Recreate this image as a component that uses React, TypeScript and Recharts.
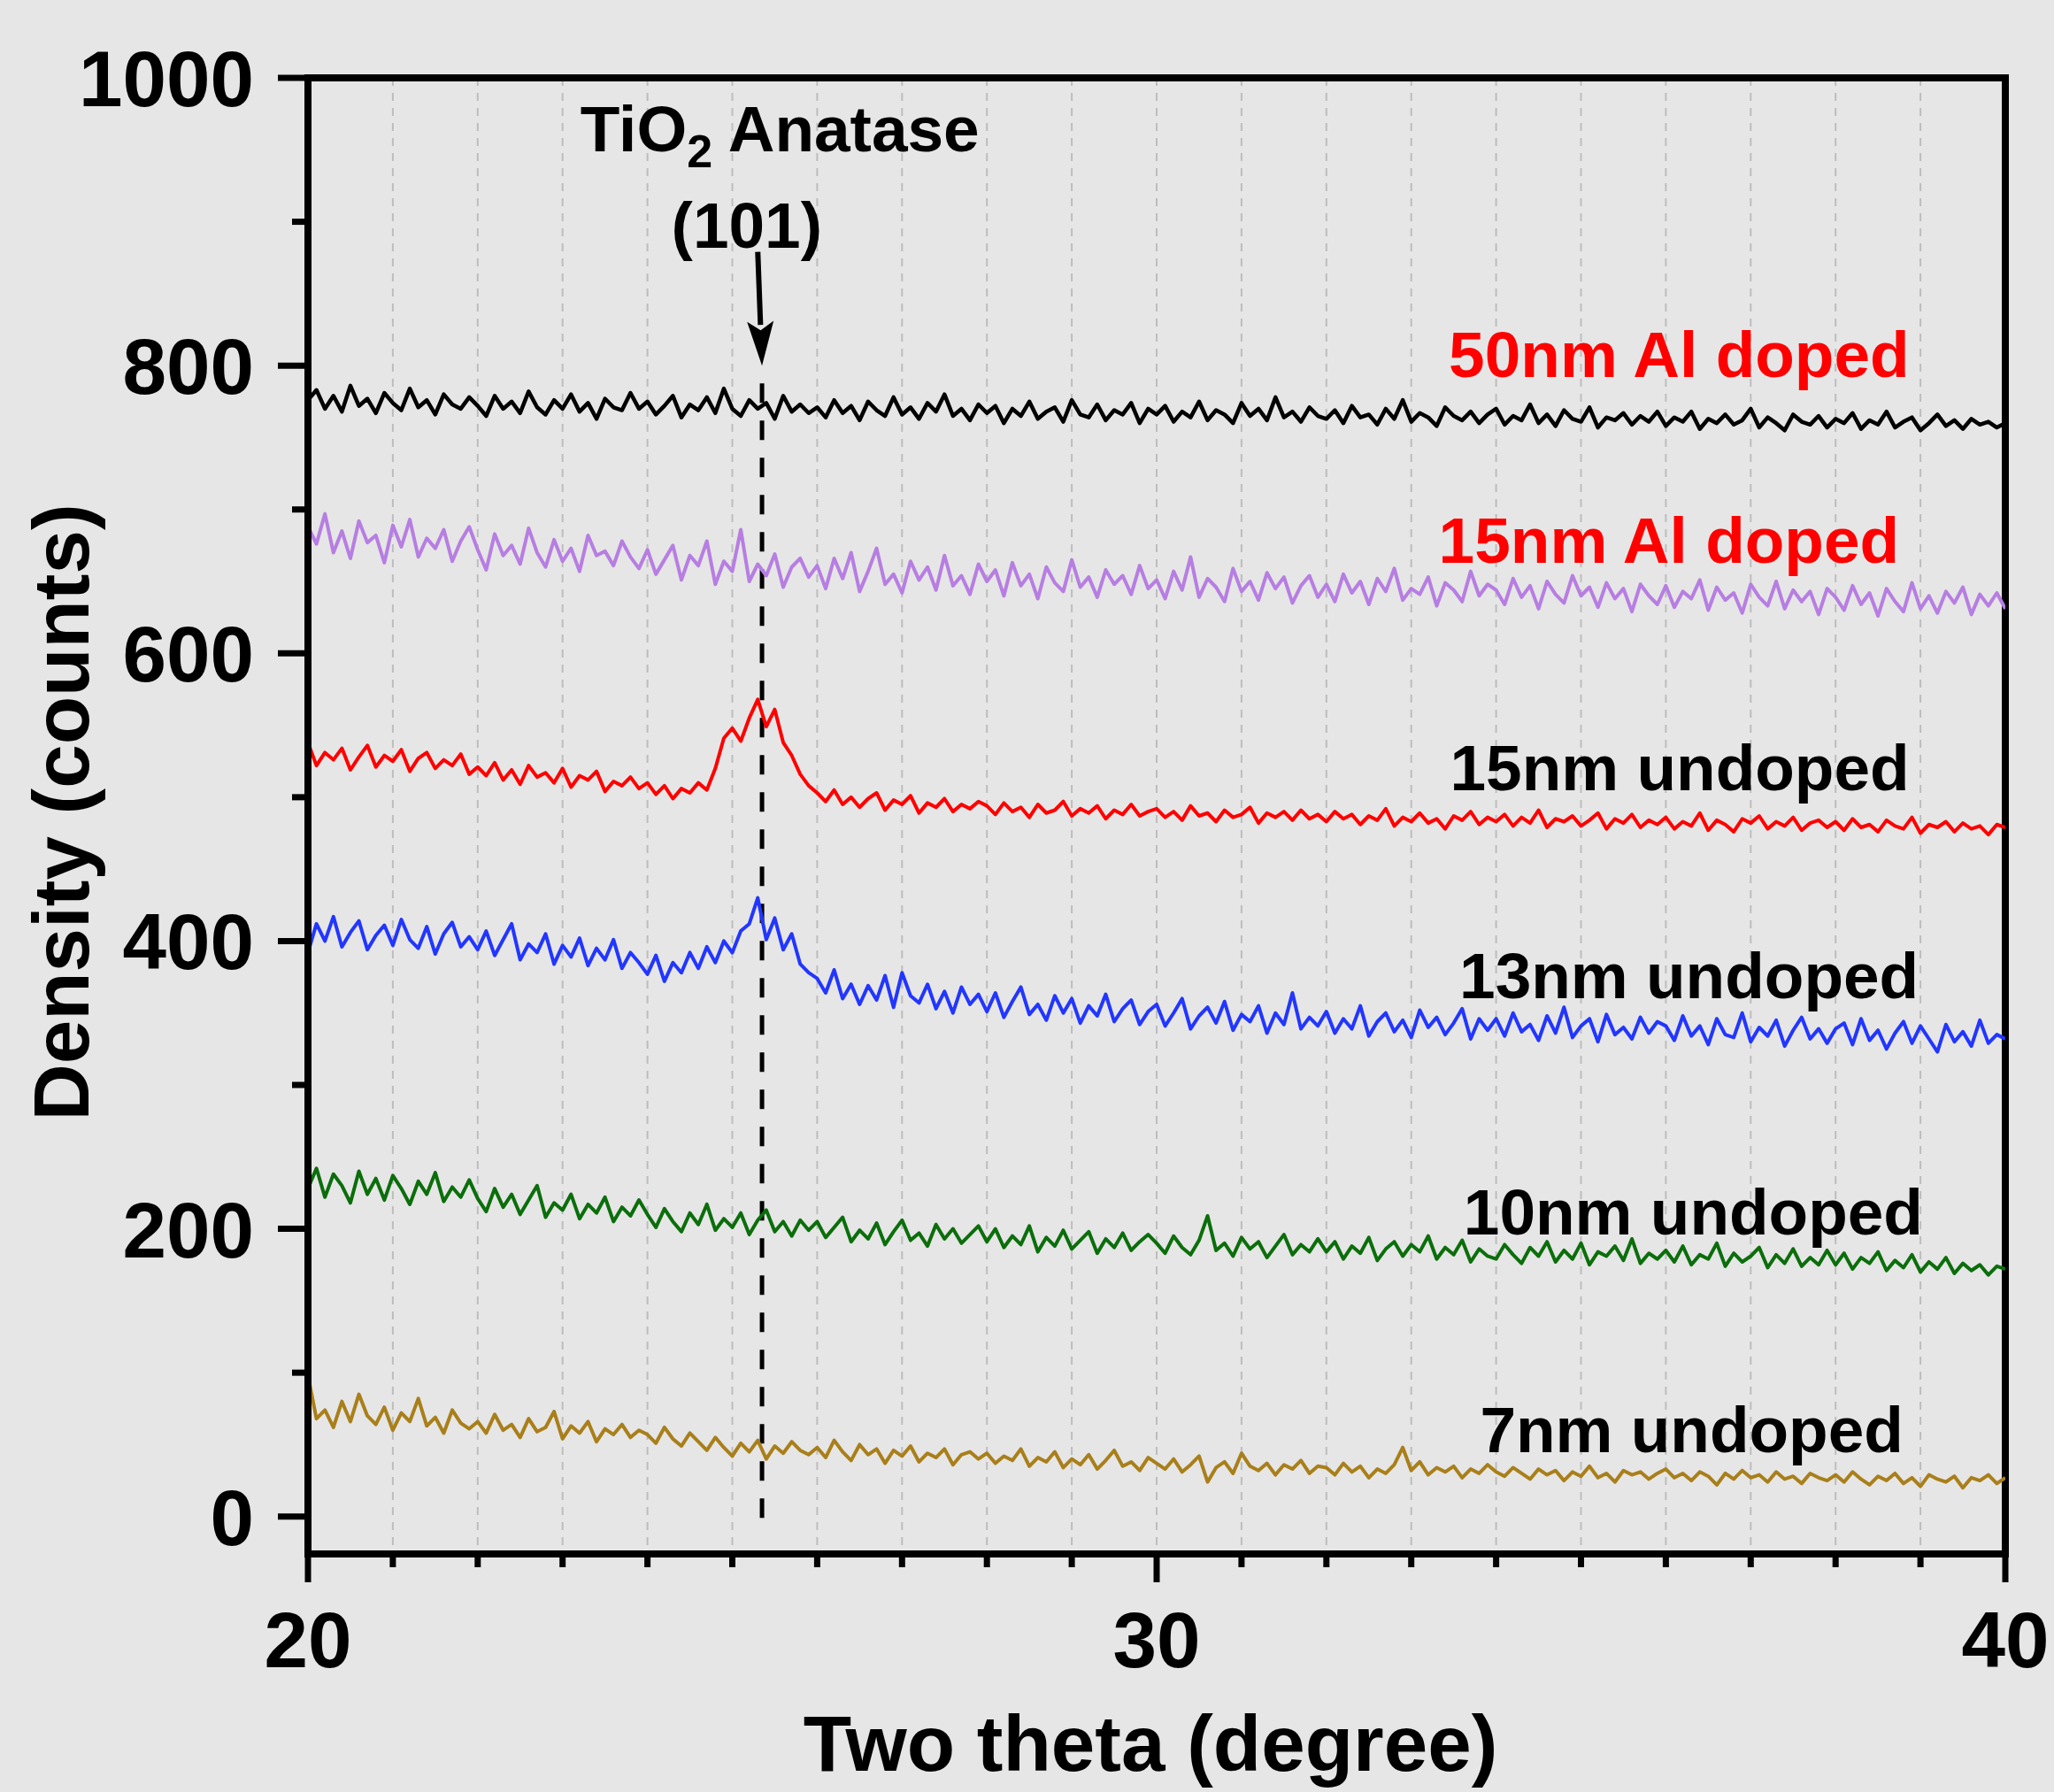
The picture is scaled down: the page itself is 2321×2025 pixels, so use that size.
import { CartesianGrid, Line, LineChart, ReferenceDot, ReferenceLine, XAxis, YAxis } from 'recharts';

// two theta runs 20.0 .. 40.0 in 0.1 degree steps
const thetaStart = 20;
const thetaStep = 0.1;

const al50 = [
  776, 783, 770, 779, 768, 786, 772, 777, 767, 781, 774, 769, 784, 771, 776, 766, 780, 773, 770, 778,
  772, 765, 779, 770, 775, 767, 782, 771, 766, 776, 770, 780, 768, 774, 763, 777, 771, 769, 781, 770,
  775, 766, 772, 779, 764, 773, 769, 778, 767, 784, 770, 765, 776, 770, 774, 763, 779, 768, 773, 767,
  771, 764, 776, 767, 772, 762, 775, 769, 765, 778, 766, 771, 763, 774, 768, 780, 765, 770, 762, 773,
  767, 772, 760, 770, 765, 775, 763, 768, 771, 761, 776, 766, 764, 773, 762, 769, 766, 774, 760, 770,
  766, 772, 761, 768, 764, 775, 762, 769, 766, 760, 774, 765, 770, 762, 778, 764, 768, 761, 771, 765,
  763, 769, 760, 772, 764, 766, 759, 770, 763, 776, 761, 767, 764, 758, 771, 765, 762, 768, 760, 766,
  770, 759, 765, 762, 773, 760, 766, 758, 769, 763, 761, 771, 757, 764, 762, 767, 759, 765, 761, 768,
  758, 764, 761, 768, 756, 763, 760, 766, 759, 762, 770, 757, 764, 760, 755, 766, 761, 759, 765, 757,
  763, 760, 767, 756, 762, 759, 768, 757, 761, 764, 755, 760, 766, 758, 762, 756, 763, 759, 761, 757,
  760,
];

const al15 = [
  688, 676, 697, 670, 685, 666, 692, 677, 682, 663, 689, 674, 693, 667, 680, 673, 686, 664, 678, 688,
  672, 658, 683, 668, 675, 662, 687, 670, 660, 679, 664, 673, 657, 682, 668, 671, 661, 678, 667, 659,
  672, 655, 665, 675, 651, 668, 661, 678, 648, 664, 657, 686, 650, 662, 654, 669, 646, 660, 666, 653,
  661, 645, 666, 652, 670, 643, 657, 673, 648, 655, 642, 664, 651, 660, 644, 668, 647, 654, 641, 662,
  650, 658, 640, 663, 647, 655, 638, 660, 649, 643, 665, 646, 653, 639, 658, 648, 654, 641, 661, 645,
  651, 638, 657, 644, 667, 639, 652, 646, 636, 659, 643, 650, 637, 656, 645, 653, 635, 647, 654, 639,
  648, 636, 655, 642, 650, 634, 652, 643, 659, 637, 645, 641, 653, 633, 649, 644, 636, 657, 640, 648,
  644, 634, 652, 639, 647, 631, 650, 641, 635, 654, 640, 646, 632, 649, 638, 645, 629, 648, 640, 634,
  647, 632, 643, 638, 651, 630, 646, 637, 642, 628, 648, 639, 633, 650, 631, 644, 636, 643, 627, 645,
  639, 630, 647, 634, 642, 626, 645, 636, 629, 649, 631, 640, 628, 643, 635, 646, 627, 641, 633, 642,
  631,
];

const undoped15 = [
  538, 522, 531, 526, 534, 519, 528, 536, 521, 529, 525, 533, 518, 527, 531, 520, 526, 522, 530, 516,
  521, 515, 524, 512, 519, 509, 522, 514, 517, 510, 520, 507, 515, 512, 518, 504, 511, 508, 514, 506,
  510, 502, 508, 499, 506, 503, 510, 505, 520, 541, 548, 539, 555, 568, 549, 561, 538, 529, 516, 508,
  503, 497, 505, 495, 500, 493, 499, 503, 491, 498, 495, 501, 489, 496, 493, 499, 490, 495, 492, 497,
  494, 488, 496, 490, 493, 486, 495, 489, 491, 497, 487, 492, 489, 494, 485, 491, 488, 495, 487, 490,
  492, 486, 490, 484, 494, 487, 489, 483, 491, 486, 488, 493, 482, 489, 486, 490, 484, 491, 485, 488,
  483, 490, 485, 488, 481, 487, 484, 492, 480, 486, 483, 489, 482, 485, 478, 487, 484, 490, 481, 486,
  483, 488, 480, 486, 482, 491, 479, 485, 483, 487, 480, 484, 489, 478, 485, 482, 488, 479, 484, 481,
  486, 478, 483, 480, 489, 477, 484, 481, 476, 485, 482, 487, 478, 483, 480, 486, 477, 482, 484, 479,
  483, 477, 485, 479, 481, 476, 484, 480, 478, 486, 475, 481, 479, 483, 476, 482, 478, 480, 474, 481,
  479,
];

const undoped13 = [
  392, 412, 400, 417, 396, 406, 414, 394, 404, 411, 397, 415, 401, 395, 410, 391, 405, 413, 396, 403,
  394, 407, 390, 401, 412, 387, 398, 392, 405, 384, 397, 389, 402, 383, 395, 387, 401, 381, 392, 385,
  377, 390, 372, 385, 378, 392, 381, 396, 385, 400, 392, 407, 412, 430, 401, 416, 394, 405, 384, 378,
  374, 364, 380, 360, 370, 356, 369, 359, 376, 354, 378, 362, 357, 370, 353, 365, 350, 368, 356, 363,
  351, 364, 347, 358, 368, 349, 356, 345, 362, 350, 360, 343, 355, 348, 363, 344, 353, 359, 342, 351,
  356, 341, 350, 360, 339, 348, 354, 343, 358, 338, 349, 344, 355, 336, 350, 342, 364, 339, 347, 341,
  351, 336, 346, 339, 355, 334, 344, 350, 337, 345, 333, 352, 340, 347, 335, 343, 353, 332, 346, 338,
  346, 334, 350, 337, 342, 331, 348, 336, 354, 333, 341, 346, 330, 349, 335, 340, 332, 347, 336, 344,
  341, 331, 348, 334, 341, 328, 346, 335, 333, 350, 330, 340, 334, 345, 327, 338, 347, 332, 339, 329,
  339, 343, 328, 346, 331, 338, 325, 336, 344, 329, 341, 332, 323, 342, 330, 337, 327, 345, 329, 335,
  332,
];

const undoped10 = [
  228, 242, 222, 238, 230, 218, 240, 224, 235, 220, 237, 228, 217, 233, 224, 239, 219, 229, 222, 234,
  221, 212, 228, 215, 224, 210, 220, 230, 208, 218, 213, 224, 207, 217, 211, 222, 205, 215, 209, 220,
  210, 201, 214, 205, 198, 211, 203, 217, 199, 207, 201, 211, 196, 206, 213, 198, 205, 195, 206, 199,
  205, 194, 201, 208, 191, 199, 193, 204, 189, 198, 206, 192, 197, 188, 203, 193, 200, 190, 196, 202,
  191, 200, 187, 195, 189, 202, 184, 194, 188, 199, 186, 192, 198, 183, 193, 187, 197, 185, 191, 196,
  190, 183, 195, 187, 182, 192, 209, 185, 190, 181, 194, 186, 191, 180, 188, 196, 182, 189, 184, 193,
  184, 191, 179, 188, 183, 194, 178, 186, 191, 181, 189, 184, 195, 179, 187, 182, 192, 177, 186, 181,
  179, 189, 182, 176, 187, 181, 191, 177, 185, 179, 190, 175, 184, 181, 188, 178, 193, 176, 183, 179,
  185, 177, 188, 175, 182, 179, 190, 174, 183, 177, 181, 187, 173, 182, 176, 186, 174, 180, 175, 185,
  175, 183, 172, 180, 176, 184, 171, 178, 173, 182, 170, 177, 172, 180, 169, 176, 171, 175, 168, 174,
  172,
];

const undoped7 = [
  98, 68, 74, 62, 80, 66, 85, 70, 64, 76, 60, 72, 66, 82, 63, 69, 58, 74, 65, 61,
  66, 58, 71, 60, 64, 55, 68, 59, 62, 73, 54, 63, 58, 66, 52, 61, 57, 64, 55, 60,
  57, 51, 62, 54, 49, 58, 52, 46, 55, 48, 42, 51, 45, 53, 40, 49, 44, 52, 46, 43,
  48, 41, 53, 45, 39, 50, 43, 47, 37, 46, 42, 49, 38, 44, 41, 47, 36, 43, 45, 40,
  44, 37, 42, 39, 47, 35, 41, 38, 45, 34, 40, 36, 43, 33, 39, 46, 35, 38, 32, 41,
  37, 33, 40, 31, 36, 42, 24, 34, 38, 30, 44, 35, 32, 37, 29, 36, 33, 39, 30, 35,
  34, 29, 37, 31, 35, 27, 33, 30, 36, 48, 32, 38, 29, 34, 31, 35, 27, 33, 30, 36,
  31, 28, 34, 30, 26, 33, 29, 32, 25, 31, 28, 35, 27, 30, 24, 32, 29, 31, 26, 30,
  33, 27, 30, 25, 31, 28, 22, 30, 26, 32, 27, 29, 24, 31, 26, 28, 23, 30, 27, 25,
  29, 24, 31, 26, 22, 28, 25, 30, 23, 27, 21, 29, 26, 24, 28, 20, 27, 25, 29, 23,
  27,
];

const xTicks = [20, 21, 22, 23, 24, 25, 26, 27, 28, 29, 30, 31, 32, 33, 34, 35, 36, 37, 38, 39, 40];
const xLabels = [20, 30, 40];
const yTicks = [0, 100, 200, 300, 400, 500, 600, 700, 800, 900, 1000];
const yLabels = [0, 200, 400, 600, 800, 1000];

const FONT = "'Liberation Sans', Arial, Helvetica, sans-serif";
const BG = '#e6e6e6';

const toPoints = (values: number[]) =>
  values.map((v, i) => ({ theta: +(thetaStart + i * thetaStep).toFixed(1), v }));

const series = [
  { key: 'al50', values: al50, color: '#000000', width: 4.5 },
  { key: 'al15', values: al15, color: '#b77ee2', width: 4 },
  { key: 'undoped15', values: undoped15, color: '#ff0000', width: 4 },
  { key: 'undoped13', values: undoped13, color: '#2236ff', width: 4 },
  { key: 'undoped10', values: undoped10, color: '#0b6e0b', width: 4 },
  { key: 'undoped7', values: undoped7, color: '#a97f1a', width: 4 },
];

function XTick({ x, y, payload }: any) {
  const major = xLabels.includes(payload.value);
  return (
    <g>
      <line x1={x} y1={y} x2={x} y2={y + (major ? 32 : 15)} stroke="#000" strokeWidth={7} />
      {major && (
        <text x={x} y={y + 128} textAnchor="middle" fontSize={89} fontWeight="bold" fontFamily={FONT} fill="#000">
          {payload.value}
        </text>
      )}
    </g>
  );
}

function YTick({ x, y, payload }: any) {
  const major = yLabels.includes(payload.value);
  return (
    <g>
      <line x1={x} y1={y} x2={x - (major ? 34 : 18)} y2={y} stroke="#000" strokeWidth={7} />
      {major && (
        <text x={x - 61} y={y + 32} textAnchor="end" fontSize={89} fontWeight="bold" fontFamily={FONT} fill="#000">
          {payload.value}
        </text>
      )}
    </g>
  );
}

function Arrow({ x1, y1, x2, y2 }: any) {
  const dx = x2 - x1;
  const dy = y2 - y1;
  const len = Math.hypot(dx, dy) || 1;
  const ux = dx / len;
  const uy = dy / len;
  const headLen = 50;
  const headW = 15;
  const bx = x2 - ux * headLen;
  const by = y2 - uy * headLen;
  return (
    <g>
      <line x1={x1} y1={y1} x2={bx + ux * 4} y2={by + uy * 4} stroke="#000" strokeWidth={6} />
      <polygon
        points={`${x2},${y2} ${bx - uy * headW},${by + ux * headW} ${bx + ux * 10},${by + uy * 10} ${bx + uy * headW},${by - ux * headW}`}
        fill="#000"
      />
    </g>
  );
}

const note = (text: string, color: string, anchor: 'start' | 'middle' | 'end') => (p: any) => (
  <text x={p.cx} y={p.cy} textAnchor={anchor} fontSize={73} fontWeight="bold" fontFamily={FONT} fill={color}>
    {text}
  </text>
);

export default function App() {
  return (
    <div style={{ position: 'absolute', left: 0, top: 0, width: 2321, height: 2025, background: BG, overflow: 'hidden' }}>
      <LineChart width={2321} height={2025} margin={{ top: 88, right: 55, bottom: 169, left: 148 }}>
        <CartesianGrid horizontal={false} stroke="#bdbdbd" strokeWidth={2} strokeDasharray="9 8" />
        <XAxis
          dataKey="theta"
          type="number"
          domain={[20, 40]}
          ticks={xTicks}
          interval={0}
          height={100}
          tickSize={0}
          tickMargin={0}
          tick={<XTick />}
          axisLine={{ stroke: '#000', strokeWidth: 8, strokeLinecap: 'square' }}
          allowDataOverflow
        />
        <YAxis
          type="number"
          domain={[-26, 1000]}
          ticks={yTicks}
          interval={0}
          width={200}
          tickSize={0}
          tickMargin={0}
          tick={<YTick />}
          axisLine={{ stroke: '#000', strokeWidth: 8, strokeLinecap: 'square' }}
          allowDataOverflow
        />
        <ReferenceLine y={1000} stroke="#000" strokeWidth={8} strokeLinecap="square" />
        <ReferenceLine x={40} stroke="#000" strokeWidth={8} strokeLinecap="square" />
        <ReferenceLine
          segment={[{ x: 25.35, y: -1 }, { x: 25.35, y: 789 }]}
          stroke="#000"
          strokeWidth={5}
          strokeDasharray="22 20"
        />
        {series.map((s) => (
          <Line
            key={s.key}
            data={toPoints(s.values)}
            dataKey="v"
            type="linear"
            stroke={s.color}
            strokeWidth={s.width}
            strokeLinejoin="round"
            dot={false}
            activeDot={false}
            isAnimationActive={false}
          />
        ))}
        <ReferenceLine segment={[{ x: 25.3, y: 879 }, { x: 25.35, y: 800 }]} shape={Arrow} />
        <ReferenceDot
          x={23.21}
          y={949}
          r={0}
          shape={(p: any) => (
            <text x={p.cx} y={p.cy} fontSize={73} fontWeight="bold" fontFamily={FONT} fill="#000">
              TiO
              <tspan fontSize={52} dy={18}>2</tspan>
              <tspan dy={-18}> Anatase</tspan>
            </text>
          )}
        />
        <ReferenceDot x={25.17} y={882} r={0} shape={note('(101)', '#000', 'middle')} />
        <ReferenceDot x={38.87} y={792} r={0} shape={note('50nm Al doped', '#ff0000', 'end')} />
        <ReferenceDot x={38.75} y={663} r={0} shape={note('15nm Al doped', '#ff0000', 'end')} />
        <ReferenceDot x={38.87} y={505} r={0} shape={note('15nm undoped', '#000', 'end')} />
        <ReferenceDot x={38.98} y={360} r={0} shape={note('13nm undoped', '#000', 'end')} />
        <ReferenceDot x={39.03} y={196} r={0} shape={note('10nm undoped', '#000', 'end')} />
        <ReferenceDot x={38.8} y={45} r={0} shape={note('7nm undoped', '#000', 'end')} />
      </LineChart>
      <svg
        width={2321}
        height={2025}
        style={{ position: 'absolute', left: 0, top: 0, pointerEvents: 'none' }}
      >
        <text x={1300} y={2001} textAnchor="middle" fontSize={89} fontWeight="bold" fontFamily={FONT} fill="#000">
          Two theta (degree)
        </text>
        <text
          x={100}
          y={918}
          transform="rotate(-90 100 918)"
          textAnchor="middle"
          fontSize={89}
          fontWeight="bold"
          fontFamily={FONT}
          fill="#000"
        >
          Density (counts)
        </text>
      </svg>
    </div>
  );
}
